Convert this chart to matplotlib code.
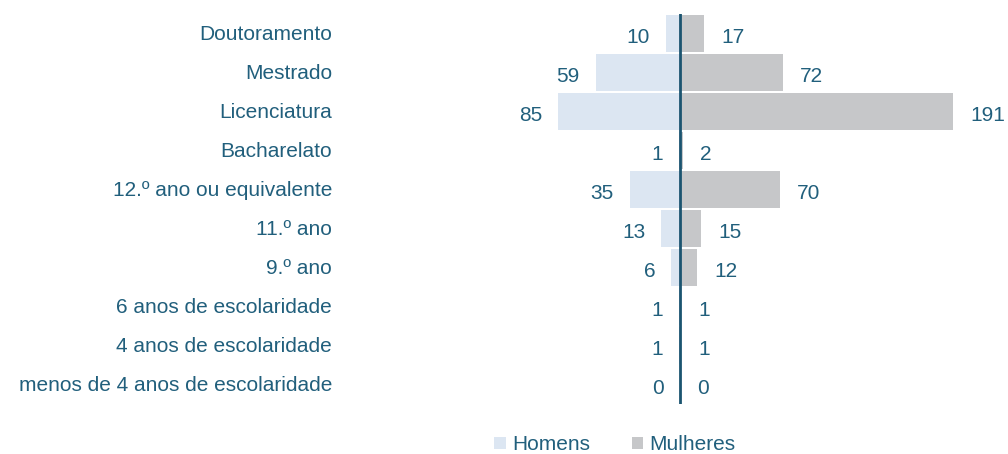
import matplotlib
matplotlib.use("Agg")
import matplotlib.pyplot as plt
import matplotlib.transforms as mtransforms
from matplotlib.patches import Patch

categories = ["Doutoramento", "Mestrado", "Licenciatura", "Bacharelato",
              "12.º ano ou equivalente", "11.º ano", "9.º ano",
              "6 anos de escolaridade", "4 anos de escolaridade",
              "menos de 4 anos de escolaridade"]
homens = [10, 59, 85, 1, 35, 13, 6, 1, 1, 0]
mulheres = [17, 72, 191, 2, 70, 15, 12, 1, 1, 0]
series_names = ["Homens", "Mulheres"]

c_h = "#dce6f2"
c_m = "#c6c7c9"
c_txt = "#215f7c"
c_line = "#1b5470"
fs = 15

plt.rcParams['font.family'] = ['Liberation Sans', 'DejaVu Sans']

W, H = 1008, 454
fig = plt.figure(figsize=(W / 100, H / 100), dpi=100)
left_px, right_px = 540, 1000
top_px, bot_px = 14, 404
ax = fig.add_axes([left_px / W, (H - bot_px) / H, (right_px - left_px) / W, (bot_px - top_px) / H])
scale = 1.43  # px per unit
center_px = 680
ax.set_xlim(-(center_px - left_px) / scale, (right_px - center_px) / scale)
ax.set_ylim(len(categories) - 0.5, -0.5)

y = list(range(len(categories)))
ax.barh(y, [-v for v in homens], height=0.94, color=c_h)
ax.barh(y, mulheres, height=0.94, color=c_m)
ax.axvline(0, color=c_line, lw=2)

for i, (h, m) in enumerate(zip(homens, mulheres)):
    ax.annotate(str(h), (-h, i), xytext=(-16, -4), textcoords='offset pixels',
                ha='right', va='center', fontsize=fs, color=c_txt)
    ax.annotate(str(m), (m, i), xytext=(17, -4), textcoords='offset pixels',
                ha='left', va='center', fontsize=fs, color=c_txt)

trans = mtransforms.blended_transform_factory(fig.transFigure, ax.transData)
for i, cat in enumerate(categories):
    ax.annotate(cat, (332 / W, i), xycoords=trans, xytext=(0, -1), textcoords='offset pixels',
                ha='right', va='center', fontsize=fs, color=c_txt)

ax.axis('off')

handles = [Patch(facecolor=c_h, edgecolor='none'), Patch(facecolor=c_m, edgecolor='none')]
leg = fig.legend(handles, series_names, loc='center', bbox_to_anchor=(615 / W, (H - 445) / H),
                 ncol=2, frameon=False, fontsize=fs, handlelength=0.55, handleheight=0.55,
                 handletextpad=0.3, columnspacing=2.0, borderpad=0, borderaxespad=0)
for t in leg.get_texts():
    t.set_color(c_txt)

fig.savefig("out.png", dpi=100)
